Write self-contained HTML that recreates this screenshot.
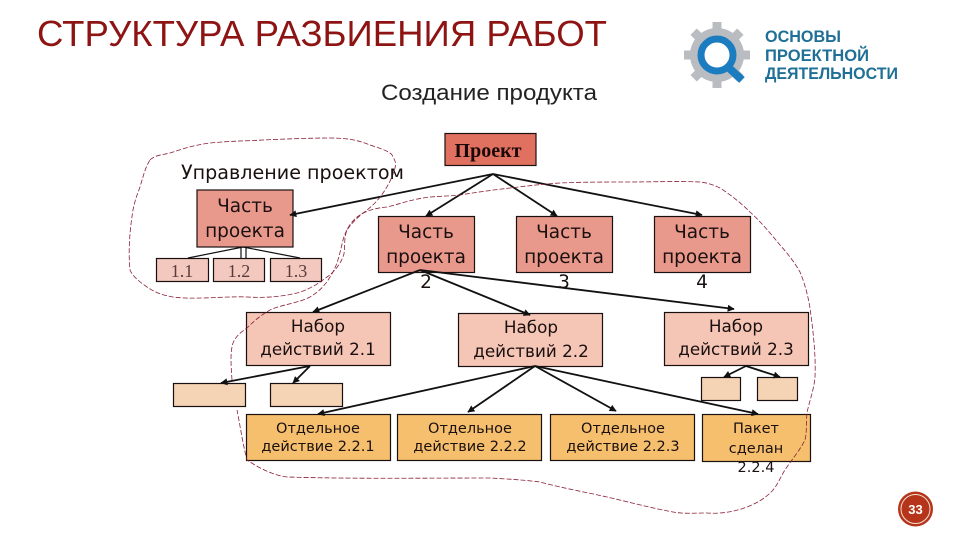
<!DOCTYPE html>
<html lang="ru"><head><meta charset="utf-8"><title>Структура разбиения работ</title>
<style>html,body{margin:0;padding:0;background:#fff}svg{display:block}
.s{font-family:"Liberation Sans",sans-serif}
.d{font-family:"DejaVu Sans",sans-serif;fill:#1a1010}
.f{font-family:"Liberation Serif",serif}
.c{text-anchor:middle}
.b{stroke:#1a1010;stroke-width:1.2}
.a{stroke:#111;fill:none;stroke-width:1.8;marker-end:url(#ar)}
.l{stroke:#111;fill:none;stroke-width:1.2}
.dash{fill:none;stroke:#8a2038;stroke-width:.8;stroke-dasharray:5 2}
</style></head><body>
<svg width="960" height="540" viewBox="0 0 960 540" xmlns="http://www.w3.org/2000/svg">
<defs><marker id="ar" viewBox="0 0 10 10" refX="9" refY="5" markerWidth="9" markerHeight="7" orient="auto" markerUnits="userSpaceOnUse"><path d="M0 0L10 5L0 10z" fill="#111"/></marker></defs>
<rect width="960" height="540" fill="#fff"/>
<text class="s" x="37" y="46" font-size="36" fill="#8e1414" textLength="570" lengthAdjust="spacingAndGlyphs">СТРУКТУРА РАЗБИЕНИЯ РАБОТ</text>
<text class="s" x="381" y="100" font-size="22" fill="#222" textLength="216" lengthAdjust="spacingAndGlyphs">Создание продукта</text>

<!-- logo -->
<g transform="translate(717,55)">
<g fill="#b9bcc0"><rect x="-4.5" y="-33" width="9" height="66"/><rect x="-4.5" y="-33" width="9" height="66" transform="rotate(45)"/><rect x="-4.5" y="-33" width="9" height="66" transform="rotate(90)"/><rect x="-4.5" y="-33" width="9" height="66" transform="rotate(135)"/></g>
<circle r="27" fill="#b9bcc0"/><circle r="15" fill="#fff"/>
<circle r="16" fill="none" stroke="#1b7cc0" stroke-width="7"/>
<path d="M11 12L25 25" stroke="#1b7cc0" stroke-width="8" fill="none"/>
</g>
<g class="s" font-weight="bold" font-size="16.5" fill="#1f6f96">
<text x="765" y="42" textLength="76" lengthAdjust="spacingAndGlyphs">ОСНОВЫ</text>
<text x="765" y="61" textLength="104" lengthAdjust="spacingAndGlyphs">ПРОЕКТНОЙ</text>
<text x="765" y="79" textLength="133" lengthAdjust="spacingAndGlyphs">ДЕЯТЕЛЬНОСТИ</text>
</g>

<!-- boxes -->
<rect class="b" x="445" y="133.500" width="91" height="32" fill="#e0705f"/>
<g fill="#e9998b"><rect class="b" x="197" y="190" width="96" height="57"/><rect class="b" x="378.500" y="216.500" width="96" height="56"/><rect class="b" x="516.500" y="216.500" width="96" height="56"/><rect class="b" x="654.500" y="216.500" width="96" height="56"/></g>
<g fill="#f2c8bf"><rect class="b" x="156.500" y="258.500" width="52" height="23"/><rect class="b" x="213.500" y="258.500" width="51" height="23"/><rect class="b" x="270.500" y="258.500" width="51" height="23"/></g>
<g fill="#f5c5b5"><rect class="b" x="246.500" y="312.500" width="144" height="53"/><rect class="b" x="458.500" y="313.500" width="144" height="53"/><rect class="b" x="664.500" y="312.500" width="144" height="53"/></g>
<g fill="#f5d3b5"><rect class="b" x="173.500" y="383.500" width="72" height="23"/><rect class="b" x="270.500" y="383.500" width="72" height="23"/><rect class="b" x="701.500" y="377.500" width="39" height="23"/><rect class="b" x="757.500" y="377.500" width="40" height="23"/></g>
<g fill="#f5bf6e"><rect class="b" x="246.500" y="414.500" width="144" height="46"/><rect class="b" x="397.500" y="414.500" width="144" height="46"/><rect class="b" x="550.500" y="414.500" width="144" height="46"/><rect class="b" x="702.500" y="414.500" width="108" height="47"/></g>

<!-- connectors -->
<path class="a" d="M493 174L290 215"/><path class="a" d="M493 174L426 216"/><path class="a" d="M493 174L557 216"/><path class="a" d="M493 174L702 215"/>
<path class="a" d="M420 270L313 312"/><path class="a" d="M420 270L530 315"/><path class="a" d="M420 270L734 309"/>
<path class="a" d="M310 366L221 383"/><path class="a" d="M310 366L293 383"/>
<path class="a" d="M535 366L318 414"/><path class="a" d="M535 366L468 412"/><path class="a" d="M535 366L616 411"/><path class="a" d="M535 366L758 414"/>
<path class="a" d="M746 366L724 377"/><path class="a" d="M746 366L780 377"/>
<path class="l" d="M243 247L188 258M241 247V258M246 247V258M243 247L300 258"/>

<!-- dashed outlines -->
<path class="dash" d="M150 160C155 155 162 155 170 153C185 148 195 145 210 143C230 141 245 141 263 140C285 139 310 138 330 138C350 138 360 141 370 145C382 149 392 152 393 157C396 162 396 164 395 168C392 178 388 186 383 193C377 202 370 208 363 213C356 219 351 224 347 230C343 240 346 250 343 257C339 266 334 272 327 277C318 284 308 290 297 293C280 297 265 298 247 297C225 296 195 300 173 297C162 295 154 292 147 287C140 282 133 277 130 270C128 250 130 228 133 210C135 200 137 195 140 187C143 177 145 168 150 160Z"/>
<path class="dash" d="M232 380C231 365 230 352 233 343C236 336 241 332 247 328C254 321 261 315 270 310C283 304 296 304 310 297C320 291 326 284 330 277C338 265 340 252 343 240C346 230 350 223 357 217C365 211 375 208 387 207C400 204 412 199 430 197C445 196 450 196 460 195C478 192 493 190 510 188C527 186 543 184 560 183C582 182 605 182 627 182C652 182 678 181 700 182C708 183 714 185 720 188C731 195 741 203 750 212C761 222 771 234 780 245C788 254 795 263 800 272C805 284 808 296 810 308C813 330 816 355 815 377C814 390 809 402 807 413C806 423 807 432 805 440C800 450 793 458 787 467C781 475 779 483 773 490C766 498 757 503 747 507C734 512 720 514 707 513C695 513 684 514 673 512C651 508 629 502 607 497C585 492 562 488 540 482C525 480 508 479 490 478C420 478 355 479 287 477C272 475 259 468 247 460C243 445 240 425 237 410"/>

<!-- labels -->
<text class="f c" x="488" y="157" font-size="20" font-weight="bold" fill="#1a0808">Проект</text>
<text class="d" x="181" y="179" font-size="19.500" textLength="223" lengthAdjust="spacingAndGlyphs">Управление проектом</text>
<g class="d c" font-size="18.500">
<text x="245" y="212">Часть</text><text x="245" y="237">проекта</text>
<text x="426" y="238">Часть</text><text x="426" y="263">проекта</text><text x="426" y="288">2</text>
<text x="564" y="238">Часть</text><text x="564" y="263">проекта</text><text x="564" y="288">3</text>
<text x="702" y="238">Часть</text><text x="702" y="263">проекта</text><text x="702" y="288">4</text>
</g>
<g class="f c" font-size="18" fill="#5a3a3a"><text x="182" y="277">1.1</text><text x="239" y="277">1.2</text><text x="296" y="277">1.3</text></g>
<g class="d c" font-size="16.800">
<text x="318" y="332">Набор</text><text x="318" y="355">действий 2.1</text>
<text x="531" y="333">Набор</text><text x="531" y="357">действий 2.2</text>
<text x="736" y="332">Набор</text><text x="736" y="355">действий 2.3</text>
</g>
<g class="d c" font-size="14.500">
<text x="318" y="433">Отдельное</text><text x="318" y="451">действие 2.2.1</text>
<text x="470" y="433">Отдельное</text><text x="470" y="451">действие 2.2.2</text>
<text x="623" y="433">Отдельное</text><text x="623" y="451">действие 2.2.3</text>
<text x="756" y="433">Пакет</text><text x="756" y="453">сделан</text><text x="756" y="472">2.2.4</text>
</g>

<!-- page number -->
<circle cx="915.500" cy="509" r="17.500" fill="#b5341a"/>
<circle cx="915.500" cy="509" r="14.500" fill="none" stroke="#f3e2d5" stroke-width="1"/>
<text class="s c" x="915.500" y="514" font-size="13" font-weight="bold" fill="#fff">33</text>
</svg>
</body></html>
